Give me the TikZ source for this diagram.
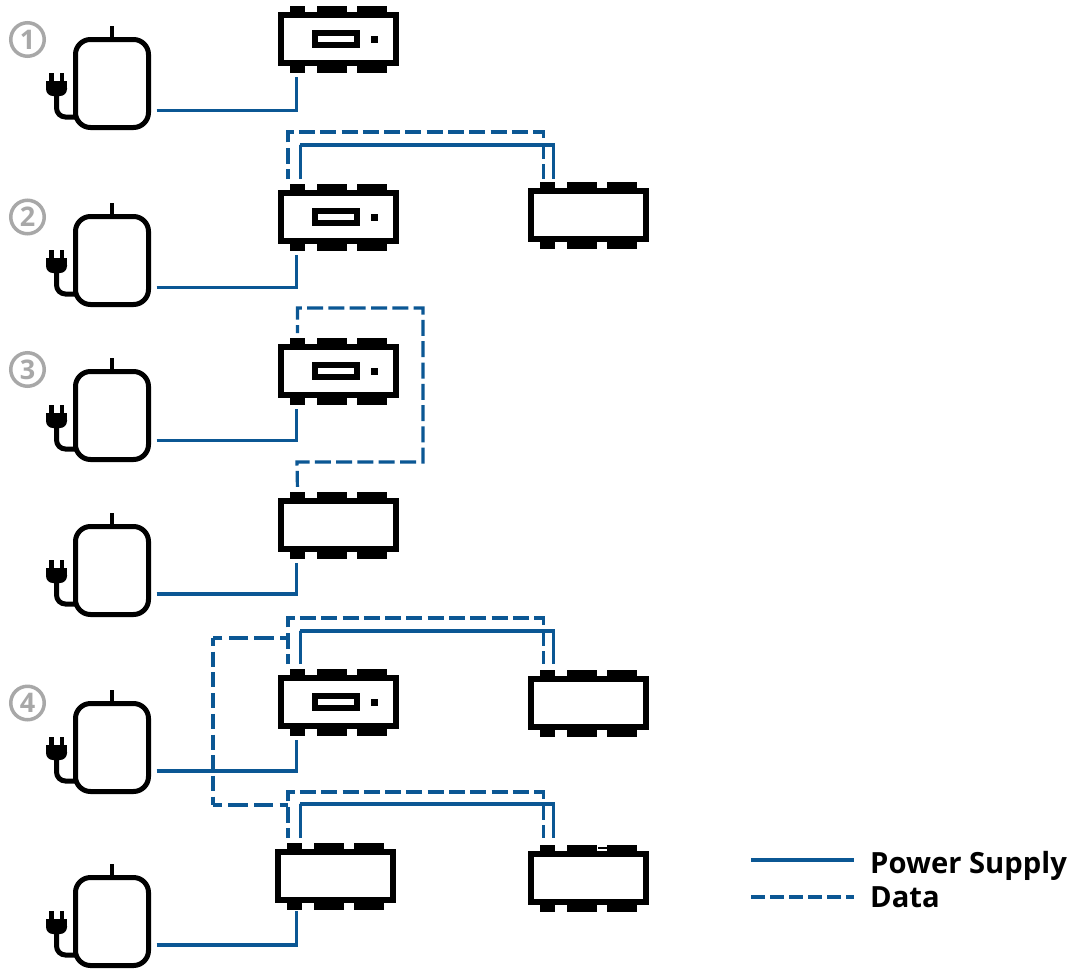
\documentclass[tikz,border=0pt]{standalone}
\usepackage{fontspec}
\setmainfont{Open Sans}
\definecolor{linkblue}{HTML}{0B5794}
\definecolor{numgray}{HTML}{A8A8A8}
\tikzset{
  x=1pt,y=-1pt,
  power/.style={draw=linkblue,line width=3.2pt,line cap=butt,line join=miter},
  data/.style={draw=linkblue,line width=3.2pt,dash pattern=on 16pt off 5.3pt,dash phase=6pt,line join=miter},
  body/.style={draw=black,fill=white,line width=6pt,minimum width=115pt,minimum height=48pt,outer sep=0pt,inner sep=0pt},
  tabblock/.style={fill=black},
  adapterbox/.style={draw=black,fill=white,line width=5pt,rounded corners=15pt,minimum width=73pt,minimum height=88pt,outer sep=0pt,inner sep=0pt},
  numbadge/.style={circle,draw=numgray,line width=3.5pt,minimum size=33.5pt,inner sep=0pt,text=numgray,font=\fontsize{27}{27}\selectfont\bfseries},
  legendtext/.style={anchor=base west,inner sep=0pt,font=\fontsize{29.2}{32}\selectfont\bfseries}
}
% name, left x, top y of body
\newcommand{\modbase}[3]{%
  \foreach \tx/\tw in {12/15,39/30,79/30}{
    \fill[tabblock] (#2+\tx,#3-6.5) rectangle (#2+\tx+\tw,#3+1);
    \fill[tabblock] (#2+\tx,#3+53) rectangle (#2+\tx+\tw,#3+60.5);
  }
  \node[body] (#1) at (#2+60.5,#3+27) {};
}
\newcommand{\modmaster}[3]{%
  \modbase{#1}{#2}{#3}
  \node[draw=black,fill=white,line width=6pt,minimum width=42pt,minimum height=12pt,outer sep=0pt,inner sep=0pt] (#1disp) at (#2+58,#3+27) {};
  \node[fill=black,minimum size=7pt,inner sep=0pt,outer sep=0pt] (#1led) at (#2+96.5,#3+27) {};
}
% name, top y
\newcommand{\adapter}[2]{%
  \draw[line width=5pt,line cap=butt,rounded corners=9pt] (76,#2+80) -- (56.5,#2+80) -- (56.5,#2+55);
  \fill[black,rounded corners=7pt] (46,#2+44) -- (67,#2+44) -- (67,#2+59) -- (46,#2+59) -- cycle;
  \fill[black] (46,#2+44) rectangle (67,#2+50);
  \fill[black] (49,#2+36) rectangle (53.5,#2+45);
  \fill[black] (59.5,#2+36) rectangle (64,#2+45);
  \draw[line width=4pt] (112,#2-11) -- (112,#2);
  \node[adapterbox] (#1) at (112,#2+46.5) {};
}
\begin{document}
\begin{tikzpicture}
\useasboundingbox (0,0) rectangle (1085,970);
\fill[white] (0,0) rectangle (1085,970);

\node[numbadge] (n1) at (27.5,39.5) {1};
\node[numbadge] (n2) at (27.5,217) {2};
\node[numbadge] (n3) at (27.5,369.5) {3};
\node[numbadge] (n4) at (27.5,703) {4};

\adapter{a1}{37}
\adapter{a2}{214}
\adapter{a3}{369}
\adapter{a3b}{524}
\adapter{a4}{701}
\adapter{a5}{875}

\modmaster{m1}{278}{12}
\modmaster{m2}{278}{190}
\modbase{s2}{528}{188}
\modmaster{m3}{278}{344}
\modbase{m3b}{278}{498}
\modmaster{m4}{278}{675}
\modbase{s4}{528}{676}
\modbase{m5}{275}{849}
\modbase{s5}{528}{851}
\draw[black,line width=1.2pt] (598,848) -- (607,848);

% power feeds
\draw[power] ([shift={(8,27)}]a1.east) -| ([shift={(-42,14)}]m1.south);
\draw[power] ([shift={(8,27)}]a2.east) -| ([shift={(-42,14)}]m2.south);
\draw[power] ([shift={(8,25)}]a3.east) -| ([shift={(-42,14)}]m3.south);
\draw[power] ([shift={(8,23.5)}]a3b.east) -| ([shift={(-42,14)}]m3b.south);
\draw[power] ([shift={(8,23.5)}]a4.east) -| ([shift={(-42,14)}]m4.south);
\draw[power] ([shift={(8,23.5)}]a5.east) -| ([shift={(-39,11)}]m5.south);

% module 2 links
\draw[data] ([shift={(-50.5,-14)}]m2.north) |- (288,132) -| ([shift={(-45,-12)}]s2.north);
\draw[power] ([shift={(-38,-14)}]m2.north) |- (300,145) -| ([shift={(-35,-12)}]s2.north);

% module 3 link
\draw[data,dash phase=8pt] ([shift={(-41,-14)}]m3.north) |- (423,308) |- (297,462) -- ([shift={(-41,-10)}]m3b.north);

% module 4 links
\draw[data] ([shift={(-50.5,-14)}]m4.north) |- (288,618) -| ([shift={(-45,-15)}]s4.north);
\draw[power] ([shift={(-38,-14)}]m4.north) |- (300,631) -| ([shift={(-35,-15)}]s4.north);
\coordinate (r1) at (288,638);
\coordinate (r2) at (213,638);
\coordinate (r3) at (213,805);
\coordinate (r4) at (288,805);
\draw[data,dash pattern=on 19.4pt off 6.3pt,dash phase=11.4pt] (r1) -- (r2);
\draw[data,dash pattern=on 15pt off 5.7pt,dash phase=7pt] (r2) -- (r3);
\draw[data,dash pattern=on 19.4pt off 6.3pt,dash phase=10.4pt] (r3) -- (r4);
\draw[data] ([shift={(-47.5,-14)}]m5.north) |- (288,792) -| ([shift={(-45,-16)}]s5.north);
\draw[power] ([shift={(-35,-14)}]m5.north) |- (300,804) -| ([shift={(-35,-16)}]s5.north);

% legend
\node[legendtext] (lp) at (870,873) {Power Supply};
\node[legendtext] (ld) at (870,907) {Data};
\coordinate (lps) at (751,860);
\coordinate (lpe) at (854,860);
\coordinate (lds) at (751,897);
\coordinate (lde) at (854,897);
\draw[power] (lps) -- (lpe);
\draw[data,dash pattern=on 14pt off 5pt,dash phase=0pt] (lds) -- (lde);
\end{tikzpicture}
\end{document}
